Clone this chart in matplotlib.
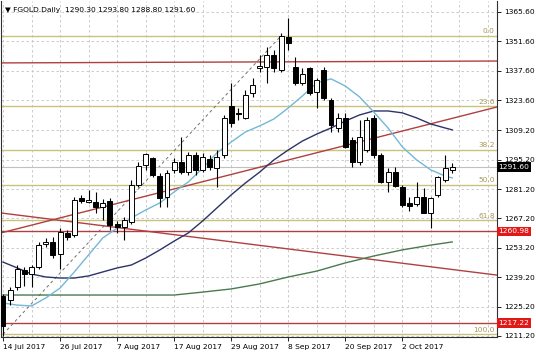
import matplotlib
matplotlib.use('Agg')
import matplotlib.pyplot as plt
from matplotlib import transforms

# daily candles, 14 Jul 2017 .. 11 Oct 2017 (bar index 0..63)
opens = [1230.0, 1228.3, 1234.5, 1242.6, 1240.7, 1244.1, 1255.0, 1256.0, 1250.3, 1260.3,
         1259.3, 1276.9, 1275.0, 1275.0, 1272.7, 1275.5, 1264.6, 1263.1, 1265.5, 1283.1,
         1292.7, 1296.0, 1287.4, 1277.4, 1290.3, 1294.1, 1289.3, 1297.4, 1290.3, 1295.5,
         1291.2, 1297.4, 1320.8, 1317.5, 1315.1, 1327.0, 1338.9, 1339.4, 1345.1, 1338.0,
         1353.7, 1339.4, 1331.8, 1338.9, 1327.5, 1338.0, 1323.7, 1310.3, 1315.1, 1304.6,
         1294.1, 1299.8, 1315.1, 1297.4, 1284.6, 1289.3, 1282.2, 1274.6, 1274.1, 1277.4,
         1269.8, 1278.4, 1285.5, 1290.3]
highs = [1231.0, 1234.5, 1245.0, 1244.1, 1245.0, 1256.0, 1257.9, 1258.4, 1262.6, 1261.7,
         1277.4, 1278.4, 1280.8, 1279.8, 1276.5, 1276.9, 1266.0, 1267.9, 1285.5, 1294.1,
         1298.4, 1296.5, 1288.9, 1290.3, 1296.0, 1306.0, 1298.9, 1298.9, 1298.4, 1297.4,
         1299.8, 1316.5, 1331.8, 1319.8, 1328.4, 1334.1, 1345.1, 1348.9, 1347.5, 1355.6,
         1362.7, 1344.1, 1338.9, 1339.4, 1334.1, 1339.4, 1324.6, 1317.5, 1317.5, 1306.0,
         1314.1, 1315.6, 1316.5, 1298.4, 1291.2, 1291.7, 1283.1, 1277.4, 1284.6, 1281.7,
         1277.4, 1287.4, 1297.4, 1293.8]
lows = [1211.0, 1225.9, 1233.1, 1235.0, 1234.5, 1243.1, 1253.6, 1248.3, 1243.1, 1257.0,
        1258.4, 1274.6, 1274.6, 1269.8, 1266.5, 1261.7, 1260.3, 1257.0, 1264.6, 1282.2,
        1290.3, 1287.0, 1272.7, 1272.7, 1288.9, 1288.4, 1287.9, 1287.9, 1289.3, 1290.3,
        1282.2, 1296.0, 1310.8, 1314.1, 1314.6, 1325.1, 1337.0, 1331.8, 1337.0, 1337.0,
        1347.5, 1330.8, 1330.8, 1326.0, 1319.8, 1323.7, 1308.4, 1308.4, 1300.8, 1291.7,
        1292.7, 1298.9, 1296.0, 1284.1, 1279.8, 1282.2, 1272.7, 1270.7, 1273.1, 1269.8,
        1262.6, 1277.4, 1284.6, 1288.8]
closes = [1216.0, 1233.1, 1243.1, 1240.7, 1244.1, 1254.5, 1256.0, 1249.8, 1260.7, 1258.4,
          1276.0, 1275.5, 1276.0, 1272.7, 1274.6, 1264.1, 1263.1, 1266.5, 1283.1, 1292.2,
          1297.9, 1287.9, 1276.9, 1288.9, 1294.1, 1289.3, 1297.4, 1290.3, 1296.5, 1291.7,
          1296.5, 1315.1, 1312.7, 1317.0, 1326.0, 1330.8, 1339.9, 1345.1, 1338.9, 1354.2,
          1350.8, 1331.8, 1336.0, 1327.0, 1333.2, 1324.6, 1311.7, 1315.1, 1301.3, 1294.1,
          1306.0, 1314.1, 1297.4, 1284.6, 1289.3, 1282.7, 1273.6, 1273.1, 1277.4, 1269.8,
          1276.9, 1287.0, 1291.2, 1291.6]

# moving averages
ma_fast_idx = list(range(0, 63, 2)) + [63]
ma_fast = [1226.9, 1225.9, 1225.5, 1229.3, 1234.0, 1241.7, 1249.8, 1257.9, 1262.6, 1267.4,
           1271.2, 1274.6, 1279.8, 1284.6, 1291.2, 1298.4, 1303.6, 1308.4, 1311.3, 1314.6,
           1319.8, 1325.6, 1331.8, 1333.7, 1330.3, 1325.1, 1317.9, 1310.3, 1301.3, 1295.1,
           1290.3, 1287.4, 1286.5]
ma_mid_idx = list(range(0, 63, 2)) + [63]
ma_mid = [1246.4, 1243.6, 1240.7, 1239.3, 1238.8, 1238.8, 1239.8, 1241.7, 1243.6, 1245.0,
          1248.3, 1252.2, 1256.4, 1260.3, 1266.0, 1272.2, 1278.4, 1284.1, 1289.3, 1295.1,
          1299.8, 1304.1, 1307.4, 1310.3, 1313.6, 1316.5, 1318.4, 1318.4, 1317.5, 1315.1,
          1312.2, 1310.3, 1309.4]
ma_slow_idx = [0, 8, 16, 24, 28, 32, 36, 40, 44, 48, 52, 56, 60, 63]
ma_slow = [1230.7, 1230.7, 1230.7, 1230.7, 1232.1, 1233.6, 1236.0, 1239.3, 1242.1, 1246.0,
           1249.3, 1252.2, 1254.5, 1256.0]

# fibonacci retracement anchors
fib_high = 1354.2
fib_low = 1212.0
fib_levels = [0.0, 23.6, 38.2, 50.0, 61.8, 100.0]
fib_start_bar, fib_end_bar = 0, 39

# horizontal levels and trend lines
level_lines = [1260.98, 1217.22]
bid = 1291.60
top_line = (1341.3, 1342.2)
trend_down = (1269.8, 1240.2)
trend_up = (1260.3, 1320.3)

yticks = [1365.60, 1351.60, 1337.60, 1323.60, 1309.20, 1295.20, 1281.20, 1267.20,
          1253.20, 1239.20, 1225.20, 1211.20]
date_bars = [0, 8, 16, 24, 32, 40, 48, 56]
date_labels = ['14 Jul 2017', '26 Jul 2017', '7 Aug 2017', '17 Aug 2017', '29 Aug 2017',
               '8 Sep 2017', '20 Sep 2017', '2 Oct 2017']

W, H = 536, 357
fig = plt.figure(figsize=(W / 100, H / 100), dpi=100)
ax = fig.add_axes([1 / W, 20 / H, 496 / W, 336 / H])
xl = (-0.28, 69.28)
ax.set_xlim(*xl)
ax.set_ylim(1210.7, 1370.8)

red = '#b04040'
fibc = '#c9c27c'
fs = 5.4

# grid
for v in yticks:
    ax.axhline(v, color='#c4c4c4', lw=0.6, ls=(0, (3, 3)), zorder=0)
for b in range(0, 70, 4):
    ax.axvline(b, color='#c4c4c4', lw=0.6, ls=(0, (3, 3)), zorder=0)

# fib levels
for lv in fib_levels:
    price = fib_high - (fib_high - fib_low) * lv / 100
    ax.axhline(price, color=fibc, lw=1.0, zorder=1)
    ax.text(xl[1] - 0.3, price + 0.8, '%.1f' % lv, color='#a8995a', fontsize=fs,
            ha='right', va='bottom')
ax.plot([fib_start_bar, fib_end_bar], [fib_low, fib_high], color='#707070', lw=0.7,
        ls=(0, (3, 3)), zorder=1)

ax.axhline(bid, color='#c0c0c0', lw=0.8, zorder=1)
for lv in level_lines:
    ax.axhline(lv, color=red, lw=1.0, zorder=1)
ax.plot(xl, top_line, color=red, lw=1.0, zorder=1)
ax.plot(xl, trend_down, color=red, lw=1.0, zorder=1)
ax.plot(xl, trend_up, color=red, lw=1.0, zorder=1)

# moving averages
ax.plot(ma_slow_idx, ma_slow, color='#4a7a50', lw=1.0, zorder=2)
ax.plot(ma_mid_idx, ma_mid, color='#2c3468', lw=1.0, zorder=2)
ax.plot(ma_fast_idx, ma_fast, color='#72b8d6', lw=1.0, zorder=2)

# candles
idx = list(range(len(opens)))
ax.vlines(idx, lows, highs, color='black', lw=0.8, zorder=3)
for i in idx:
    o, c = opens[i], closes[i]
    fill = 'white' if c >= o else 'black'
    hgt = max(abs(c - o), 0.35)
    ax.bar(i, hgt, bottom=min(o, c), width=0.7, color=fill, edgecolor='black',
           linewidth=0.7, zorder=4)

# axes styling
ax.spines['top'].set_visible(False)
for s in ['left', 'right', 'bottom']:
    ax.spines[s].set_color('#303030')
    ax.spines[s].set_linewidth(0.8)
ax.yaxis.tick_right()
ax.set_yticks(yticks)
ax.set_yticklabels(['%.2f' % v for v in yticks], fontsize=fs)
ax.tick_params(axis='y', length=3, width=0.6, pad=2, colors='black')
ax.set_xticks(date_bars)
ax.set_xticklabels(date_labels, fontsize=fs, ha='left')
ax.tick_params(axis='x', length=3, width=0.6, pad=2)

# price tags on the right axis
tr = transforms.blended_transform_factory(ax.transAxes, ax.transData)
for lv in level_lines:
    ax.text(1.003, lv, '%.2f' % lv, transform=tr, fontsize=fs, color='white', va='center',
            ha='left', bbox=dict(boxstyle='square,pad=0.25', fc='#e01818', ec='none'),
            clip_on=False)
ax.text(1.003, bid, '%.2f' % bid, transform=tr, fontsize=fs, color='white', va='center',
        ha='left', bbox=dict(boxstyle='square,pad=0.25', fc='black', ec='none'), clip_on=False)

fig.text(5 / W, 1 - 10 / H, '\u25bc FGOLD.Daily  1290.30 1293.80 1288.80 1291.60',
         fontsize=fs, va='center', ha='left')

fig.savefig('out.png', dpi=100)
